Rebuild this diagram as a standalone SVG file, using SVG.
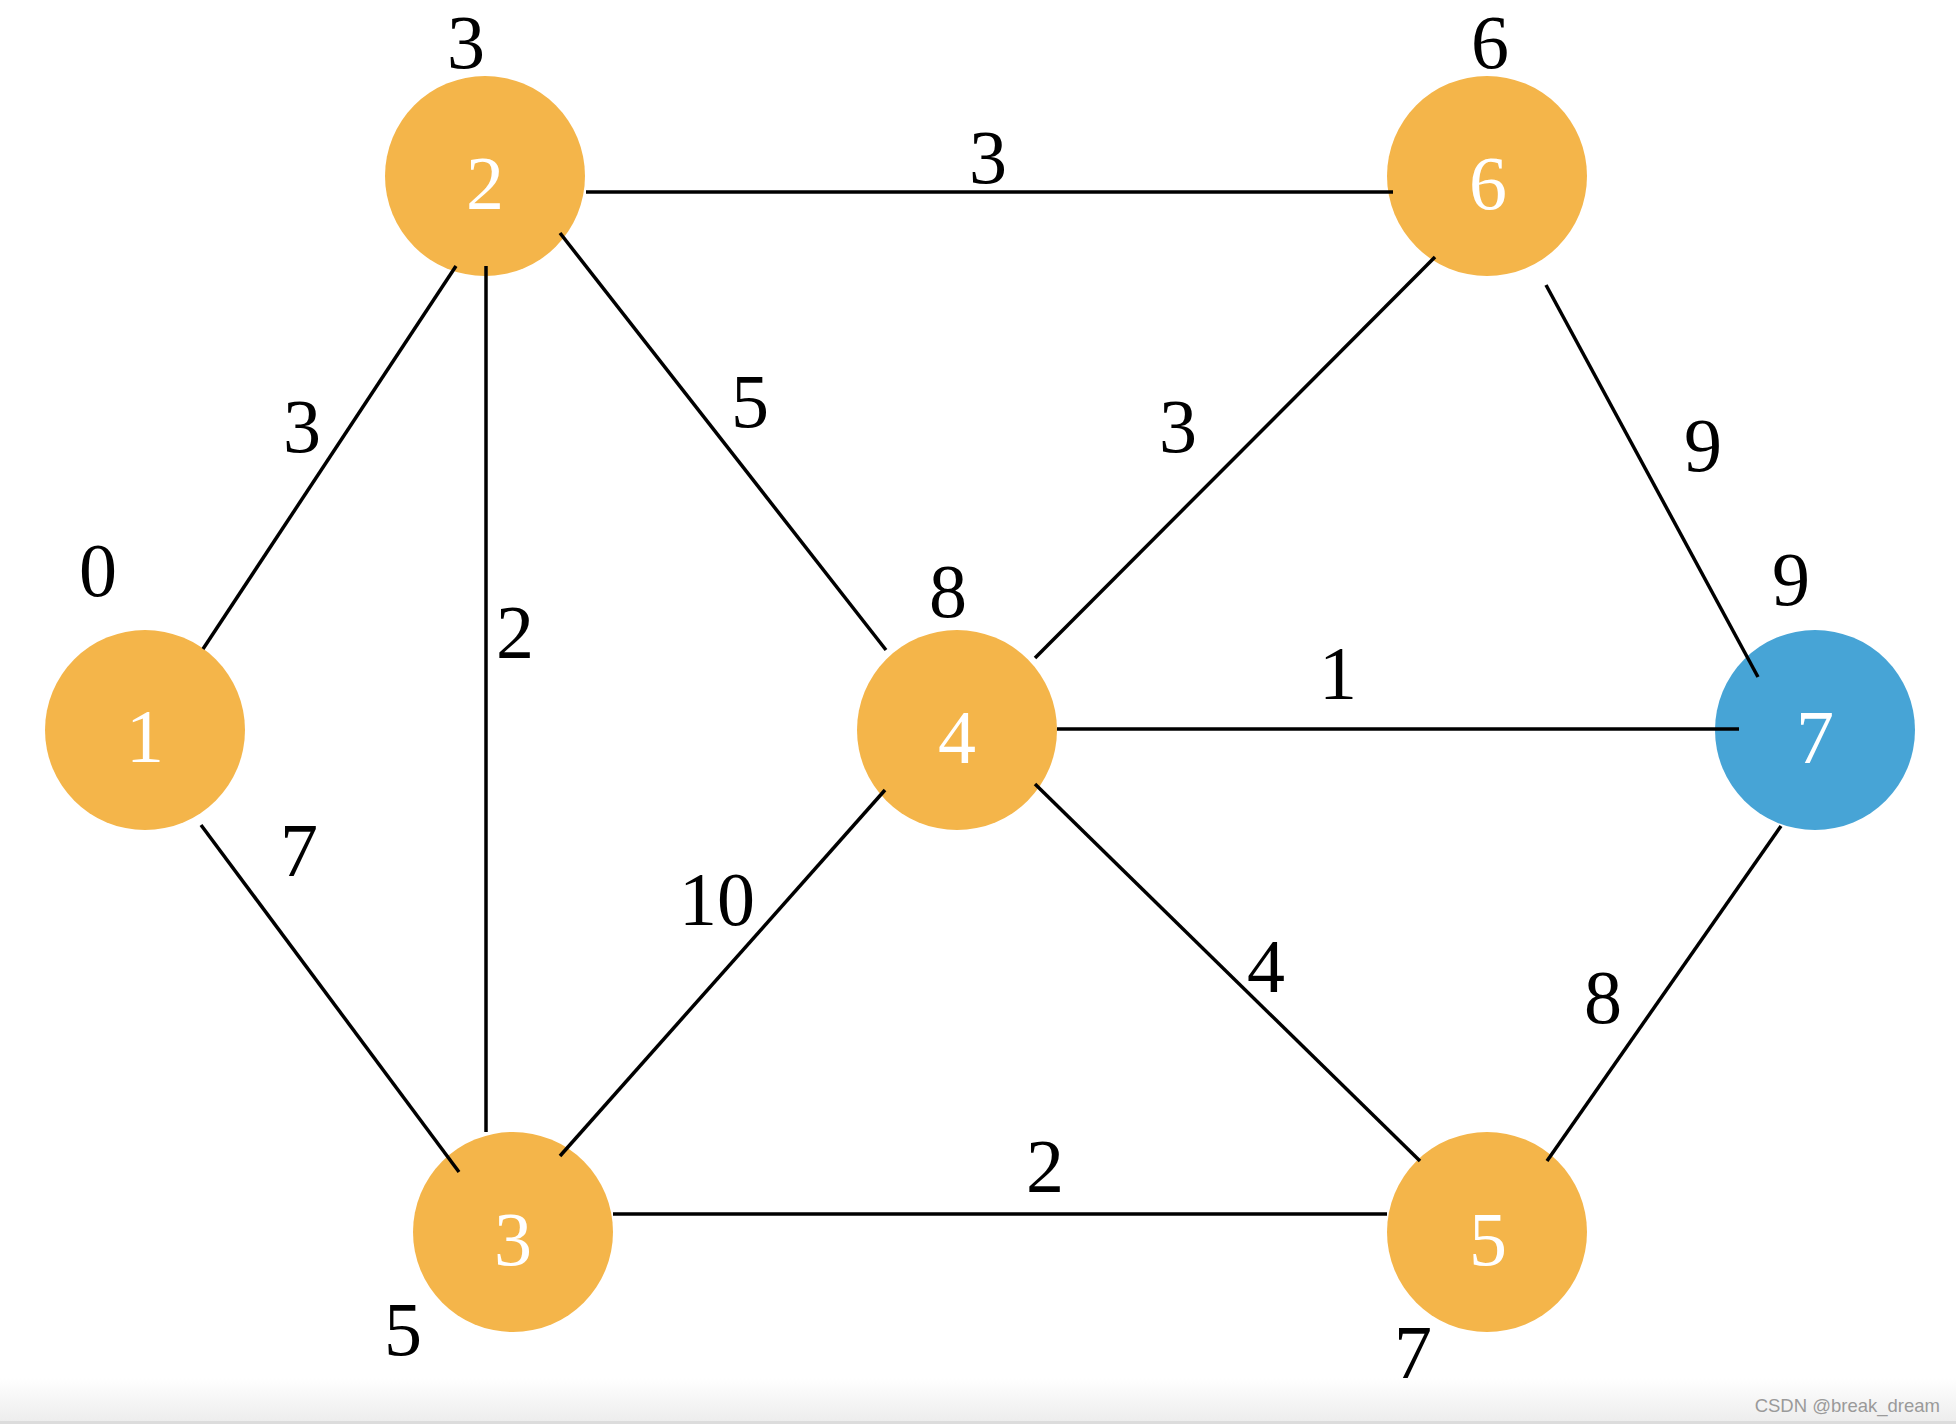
<svg xmlns="http://www.w3.org/2000/svg" width="1956" height="1424" viewBox="0 0 1956 1424">
<defs>
<linearGradient id="band" x1="0" y1="0" x2="0" y2="1">
<stop offset="0" stop-color="#ffffff"/>
<stop offset="1" stop-color="#ededed"/>
</linearGradient>
</defs>
<style>
.edge{stroke:#000;stroke-width:3.5;fill:none}
.node{fill:#F4B54A}
.target{fill:#47A4D6}
.nl{font-family:"Liberation Serif","Times New Roman",serif;font-size:76px;fill:#fff;text-anchor:middle}
.lbl{font-family:"Liberation Serif","Times New Roman",serif;font-size:76px;fill:#000;text-anchor:middle}
.wm{font-family:"Liberation Sans",Arial,sans-serif;font-size:18.5px;fill:#9a9a9a;text-anchor:end}
</style>
<rect x="0" y="0" width="1956" height="1424" fill="#fff"/>
<rect x="0" y="1378" width="1956" height="43" fill="url(#band)"/>
<rect x="0" y="1421" width="1956" height="3" fill="#dcdcdc"/>
<g id="node1">
<circle class="node" cx="145" cy="730" r="100"/>
<text class="nl" x="145" y="762">1</text>
<text class="lbl" x="98" y="596">0</text>
</g>
<g id="node2">
<circle class="node" cx="485" cy="176" r="100"/>
<text class="nl" x="485" y="209">2</text>
<text class="lbl" x="466" y="68">3</text>
</g>
<g id="node3">
<circle class="node" cx="513" cy="1232" r="100"/>
<text class="nl" x="513" y="1265">3</text>
<text class="lbl" x="403" y="1355">5</text>
</g>
<g id="node4">
<circle class="node" cx="957" cy="730" r="100"/>
<text class="nl" x="957" y="763">4</text>
<text class="lbl" x="948" y="617">8</text>
</g>
<g id="node5">
<circle class="node" cx="1487" cy="1232" r="100"/>
<text class="nl" x="1488" y="1265">5</text>
<text class="lbl" x="1413" y="1378">7</text>
</g>
<g id="node6">
<circle class="node" cx="1487" cy="176" r="100"/>
<text class="nl" x="1488" y="209">6</text>
<text class="lbl" x="1490" y="68">6</text>
</g>
<g id="node7">
<circle class="target" cx="1815" cy="730" r="100"/>
<text class="nl" x="1815" y="763">7</text>
<text class="lbl" x="1791" y="605">9</text>
</g>
<g id="connectors">
<line class="edge" x1="203" y1="649" x2="456" y2="266"/>
<line class="edge" x1="486" y1="266" x2="486" y2="1132"/>
<line class="edge" x1="586" y1="192" x2="1393" y2="192"/>
<line class="edge" x1="560" y1="233" x2="886" y2="650"/>
<line class="edge" x1="201" y1="825" x2="459" y2="1172"/>
<line class="edge" x1="1035" y1="658" x2="1435" y2="257"/>
<line class="edge" x1="1546" y1="285" x2="1758" y2="677"/>
<line class="edge" x1="1057" y1="729" x2="1739" y2="729"/>
<line class="edge" x1="560" y1="1156" x2="885" y2="790"/>
<line class="edge" x1="1035" y1="784" x2="1420" y2="1161"/>
<line class="edge" x1="613" y1="1214" x2="1387" y2="1214"/>
<line class="edge" x1="1781" y1="826" x2="1547" y2="1161"/>
<text class="lbl" x="302" y="452">3</text>
<text class="lbl" x="515" y="658">2</text>
<text class="lbl" x="988" y="183">3</text>
<text class="lbl" x="750" y="427">5</text>
<text class="lbl" x="299" y="876">7</text>
<text class="lbl" x="1178" y="452">3</text>
<text class="lbl" x="1703" y="471">9</text>
<text class="lbl" x="1338" y="699">1</text>
<text class="lbl" x="717" y="925">10</text>
<text class="lbl" x="1266" y="992">4</text>
<text class="lbl" x="1045" y="1192">2</text>
<text class="lbl" x="1603" y="1023">8</text>
</g>
<text class="wm" x="1940" y="1412">CSDN @break_dream</text>
</svg>
